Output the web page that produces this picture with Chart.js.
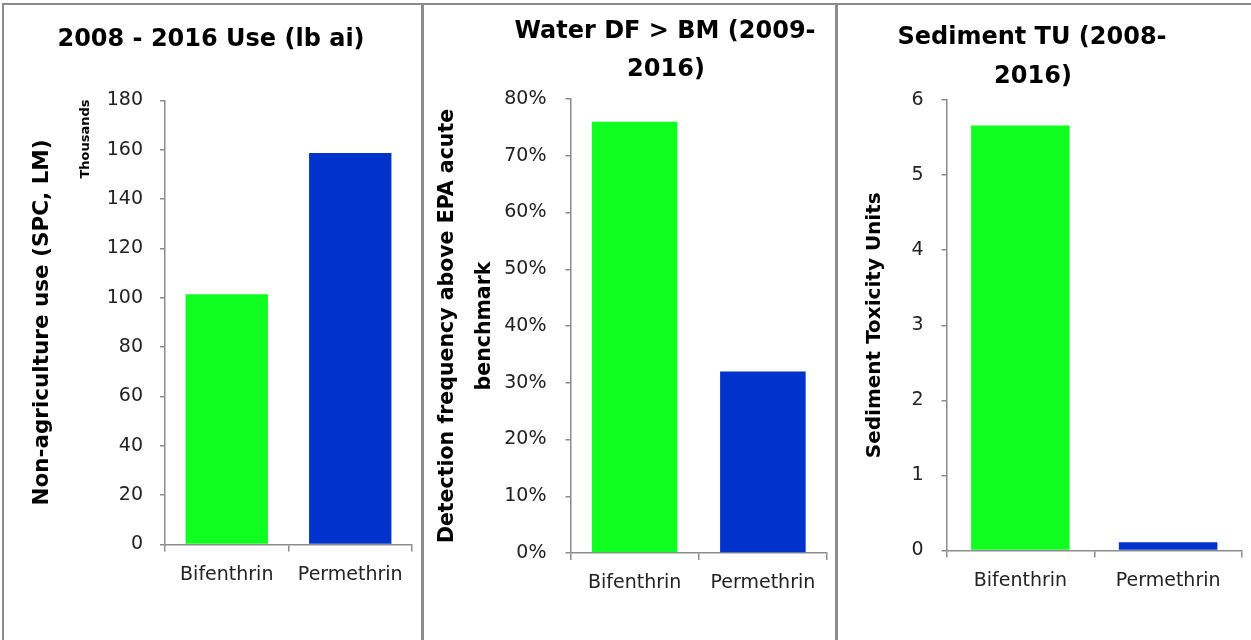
<!DOCTYPE html>
<html>
<head>
<meta charset="utf-8">
<script src="https://cdn.jsdelivr.net/npm/chart.js@4"></script>
<style>
  body { margin: 0; background: #fff; }
  #wrap { position: relative; width: 1251px; height: 640px; overflow: hidden; }
  canvas { position: absolute; top: 0; }
  .line { position: absolute; background: #8c8c8c; }
</style>
</head>
<body>
<div id="wrap">
  <div class="line" style="left:2px;top:3px;width:1249px;height:2px"></div>
  <div class="line" style="left:2px;top:3px;width:2px;height:637px"></div>
  <div class="line" style="left:421px;top:3px;width:3px;height:637px"></div>
  <div class="line" style="left:835px;top:3px;width:3px;height:637px"></div>
  <div style="position:absolute;left:4px;top:5px;width:417px;height:635px"><canvas id="c1"></canvas></div>
  <div style="position:absolute;left:424px;top:5px;width:411px;height:635px"><canvas id="c2"></canvas></div>
  <div style="position:absolute;left:838px;top:5px;width:413px;height:635px"><canvas id="c3"></canvas></div>
</div>
<script>
const categories = ["Bifenthrin", "Permethrin"];
const barColors = ["#10ff20", "#0033cc"];

// 2008-2016 non-ag use, thousands of lb ai
const useValues = [101.5, 158.7];
// share of water samples above EPA acute benchmark
const waterDF = [0.76, 0.32];
// sediment toxicity units
const sedimentTU = [5.66, 0.11];

const tickFont = { family: "DejaVu Sans", size: 19 };
const boldFont = (size, lh) => ({ family: "DejaVu Sans", size: size, weight: "bold", lineHeight: lh || 1.2 });
const axisGrey = "#8c8c8c";

// draws the panel heading (and any extra rotated note) with fixed text positions
const panelText = {
  id: "panelText",
  afterDraw(chart, args, opts) {
    const ctx = chart.ctx;
    ctx.save();
    ctx.fillStyle = "#000";
    ctx.textAlign = "center";
    ctx.textBaseline = "middle";
    (opts.items || []).forEach((it) => {
      ctx.save();
      ctx.font = "bold " + it.size + "px 'DejaVu Sans'";
      ctx.translate(it.x, it.y);
      if (it.rotate) ctx.rotate(-Math.PI / 2);
      ctx.fillText(it.text, 0, 0);
      ctx.restore();
    });
    ctx.restore();
  },
};

function makeChart(id, values, cfg) {
  return new Chart(document.getElementById(id), {
    type: "bar",
    data: {
      labels: categories,
      datasets: [
        {
          data: values,
          backgroundColor: barColors,
          borderWidth: 0,
          barPercentage: 0.667,
          categoryPercentage: 1.0,
        },
      ],
    },
    plugins: [panelText],
    options: {
      responsive: true,
      maintainAspectRatio: false,
      animation: false,
      layout: { padding: { left: 0, right: cfg.padRight, top: cfg.padTop, bottom: cfg.padBottom } },
      plugins: {
        legend: { display: false },
        tooltip: { enabled: false },
        panelText: { items: cfg.text },
      },
      scales: {
        x: {
          afterFit: (s) => { s.height = 60; },
          grid: { offset: true, drawOnChartArea: false, drawTicks: true, tickLength: 7, color: axisGrey, lineWidth: 1.5 },
          border: { display: true, color: axisGrey, width: 1.5 },
          ticks: { font: tickFont, color: "#222", padding: 12, maxRotation: 0 },
        },
        y: {
          afterFit: (s) => { s.width = cfg.axisWidth; },
          min: 0,
          max: cfg.max,
          grid: { drawOnChartArea: false, drawTicks: true, tickLength: 5, color: axisGrey, lineWidth: 1.5 },
          border: { display: true, color: axisGrey, width: 1.5 },
          ticks: {
            stepSize: cfg.step,
            font: tickFont,
            color: "#222",
            padding: cfg.tickPad,
            callback: cfg.fmt || ((v) => v),
          },
          title: {
            display: true,
            text: cfg.yTitle,
            font: boldFont(cfg.yTitleSize, cfg.yLineHeight),
            color: "#000",
            padding: { top: cfg.yTitlePad, bottom: 0 },
          },
        },
      },
    },
  });
}

makeChart("c1", useValues, {
  max: 180, step: 20, axisWidth: 161, tickPad: 17,
  padRight: 9, padTop: 95.5, padBottom: 35.5,
  yTitle: "Non-agriculture use (SPC, LM)", yTitleSize: 21.5, yTitlePad: 26,
  text: [
    { text: "2008 - 2016 Use (lb ai)", x: 207, y: 35, size: 24 },
    { text: "Thousands", x: 82, y: 134, size: 13, rotate: true },
  ],
});

makeChart("c2", waterDF, {
  max: 0.8, step: 0.1, axisWidth: 146.5, tickPad: 19,
  padRight: 8, padTop: 94, padBottom: 27,
  yTitle: ["Detection frequency above EPA acute", "benchmark"], yTitleSize: 20.5, yLineHeight: 1.8, yTitlePad: 5.5,
  fmt: (v) => Math.round(v * 100) + "%",
  text: [
    { text: "Water DF > BM (2009-", x: 241, y: 27, size: 24 },
    { text: "2016)", x: 242, y: 65, size: 24 },
  ],
});

makeChart("c3", sedimentTU, {
  max: 6, step: 1, axisWidth: 108.5, tickPad: 18,
  padRight: 9, padTop: 95, padBottom: 29.5,
  yTitle: "Sediment Toxicity Units", yTitleSize: 20, yTitlePad: 25,
  text: [
    { text: "Sediment TU (2008-", x: 194, y: 33, size: 24 },
    { text: "2016)", x: 195, y: 72, size: 24 },
  ],
});
</script>
</body>
</html>
